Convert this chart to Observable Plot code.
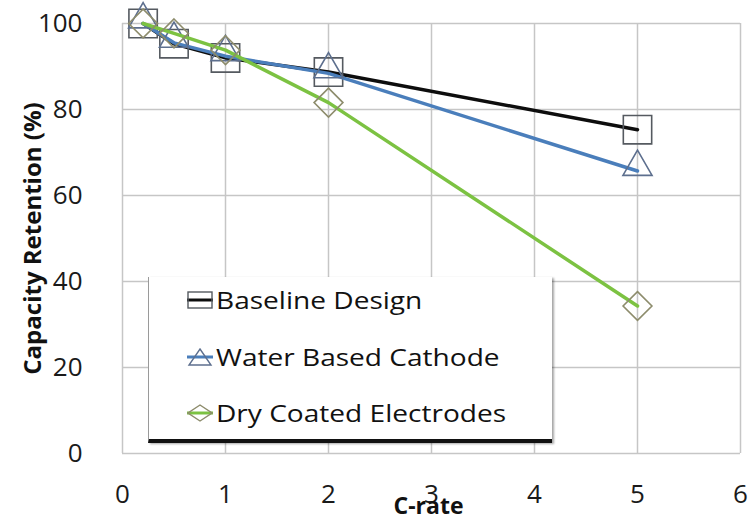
<!DOCTYPE html>
<html><head><meta charset="utf-8">
<script src="https://cdn.jsdelivr.net/npm/d3@7"></script>
<script src="https://cdn.jsdelivr.net/npm/@observablehq/plot@0.6"></script>
<style>
body{margin:0;background:#fff;}
#wrap{position:relative;width:748px;height:519px;font-family:"Open Sans",sans-serif;}
#legend{position:absolute;left:148px;top:277px;width:403px;height:162px;background:#fff;border-left:1px solid #9a9a9a;border-bottom:4px solid #111;box-shadow:2px 1px 2px rgba(0,0,0,0.35);}
.row{position:absolute;left:38px;height:30px;display:flex;align-items:center;}
.row span{font-size:23px;color:#111;display:inline-block;transform:scaleX(1.22);transform-origin:left center;margin-left:3px;white-space:nowrap;}
</style></head><body><div id="wrap"></div>
<script>
// ---- data ----
const cRates = [0.2, 0.5, 1, 2, 5];
const seriesNames = ["Baseline Design", "Water Based Cathode", "Dry Coated Electrodes"];
const baseline = [100, 95.3, 92.0, 88.7, 75.3];
const waterBased = [100, 95.5, 92.4, 88.4, 65.7];
const dryCoated = [100, 97.7, 93.8, 81.6, 34.3];
const xTicks = [0, 1, 2, 3, 4, 5, 6];
const yTicks = [0, 20, 40, 60, 80, 100];
const xLabel = "C-rate";
const yLabel = "Capacity Retention (%)";

// ---- styles ----
const values = [baseline, waterBased, dryCoated];
const lineColors = ["#0d0d0d", "#4a7ebb", "#7cc242"];
const markerColors = ["#555a60", "#5d6f8e", "#8d8c6c"];
const symbols = ["square", "triangle", "diamond2"];
const radii = [16, 10.8, 13];
const dys = [0, -4, 0];

const rows = [];
seriesNames.forEach((s, i) => cRates.forEach((c, j) => rows.push({series: s, c, v: values[i][j]})));

const marks = [
  Plot.gridX(xTicks, {stroke: "#c6c6c6", strokeOpacity: 1, strokeWidth: 1.5}),
  Plot.gridY(yTicks, {stroke: "#c6c6c6", strokeOpacity: 1, strokeWidth: 1.5}),
  Plot.axisX(xTicks, {tickSize: 0, tickPadding: 31, fontSize: 26, label: null, fill: "#1a1a1a"}),
  Plot.axisY(yTicks, {tickSize: 0, tickPadding: 40, fontSize: 26, label: null, fill: "#1a1a1a"})
];
seriesNames.forEach((s, i) => {
  const d = rows.filter(r => r.series === s);
  marks.push(Plot.line(d, {x: "c", y: "v", stroke: lineColors[i], strokeWidth: 3.5}));
  marks.push(Plot.dot(d, {x: "c", y: "v", symbol: symbols[i], r: radii[i], stroke: markerColors[i], strokeWidth: 1.6, fill: "none", dy: dys[i]}));
});
marks.push(Plot.text([yLabel], {frameAnchor: "left", text: d => d, rotate: -90, dx: -89, textAnchor: "middle", lineAnchor: "middle", fontSize: 24, fontWeight: "bold", fill: "#111"}));
marks.push(Plot.text([xLabel], {frameAnchor: "bottom", text: d => d, dy: 53, dx: -3, textAnchor: "middle", lineAnchor: "middle", fontSize: 23, fontWeight: "bold", fill: "#111"}));

const chart = Plot.plot({
  width: 748, height: 519,
  marginLeft: 122, marginRight: 8, marginTop: 23, marginBottom: 66,
  x: {domain: [0, 6]},
  y: {domain: [0, 100]},
  style: {fontFamily: "Open Sans", background: "white", overflow: "visible"},
  marks
});
const wrap = document.getElementById("wrap");
wrap.appendChild(chart);

// ---- legend (HTML overlay) ----
const legend = document.createElement("div");
legend.id = "legend";
const tops = [8, 65, 121];
const swatch = [
  '<rect x="1" y="1" width="24" height="16" fill="none" stroke="#555a60" stroke-width="1.4"/>',
  '<polygon points="13,1 24,17 2,17" fill="none" stroke="#5d6f8e" stroke-width="1.4"/>',
  '<polygon points="13,1 25,9 13,17 1,9" fill="none" stroke="#8d8c6c" stroke-width="1.4"/>'
];
seriesNames.forEach((s, i) => {
  const row = document.createElement("div");
  row.className = "row";
  row.style.top = tops[i] + "px";
  row.innerHTML = `<svg width="26" height="18" viewBox="0 0 26 18"><line x1="0" x2="26" y1="9" y2="9" stroke="${lineColors[i]}" stroke-width="3"/>${swatch[i]}</svg><span>${s}</span>`;
  legend.appendChild(row);
});
wrap.appendChild(legend);
</script></body></html>
